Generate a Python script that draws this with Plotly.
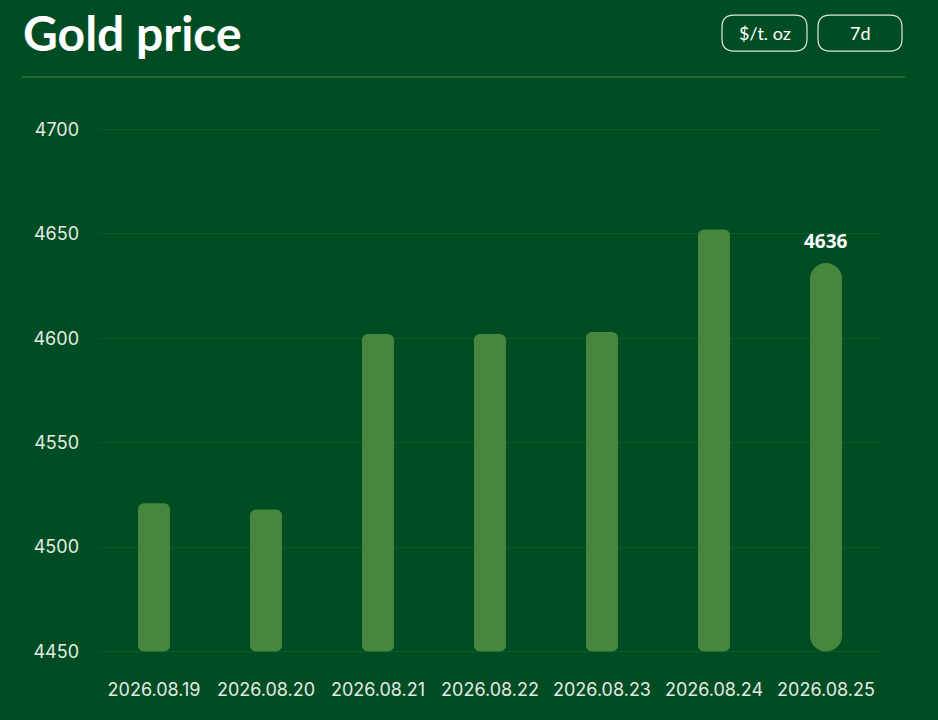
import plotly.graph_objects as go

dates = ["2026.08.19", "2026.08.20", "2026.08.21", "2026.08.22", "2026.08.23", "2026.08.24", "2026.08.25"]
prices = [4521, 4518, 4602, 4602, 4603, 4652, 4636]
y_floor = 4450
y_ticks = [4450, 4500, 4550, 4600, 4650, 4700]
title_text = "Gold price"
unit_label = "$/t. oz"
period_label = "7d"

BG = "#004d24"
BAR = "#46873f"
GRID = "#0b5829"
TICK = "#e3ebe3"

heights = [v - y_floor for v in prices]
n = len(dates)

fig = go.Figure()
groups = [(list(range(n - 1)), 6), ([n - 1], "50%")]
for idx, rad in groups:
    fig.add_trace(go.Bar(x=[dates[i] for i in idx], y=[heights[i] for i in idx],
                         base=[y_floor] * len(idx),
                         marker=dict(color=BAR, cornerradius=rad, line=dict(width=0)),
                         hoverinfo="skip", showlegend=False))

fig.add_annotation(x=dates[-1], y=prices[-1], text="<b>%d</b>" % prices[-1], showarrow=False,
                   yshift=22, font=dict(family="Open Sans", size=19, color="white"))

PL, PW, PB, PH = 98, 784, 662.5, 564.5

def px2paper_x(px):
    return (px - PL) / PW

def px2paper_y(py):
    return (PB - py) / PH

fig.add_annotation(xref="paper", yref="paper", x=px2paper_x(21), y=px2paper_y(32), xanchor="left", yanchor="middle",
                   text="<b>" + title_text + "</b>", showarrow=False,
                   font=dict(family="Lato", size=48, color="white"))

for (x0, x1, lab) in [(722, 807, unit_label), (818, 902, period_label)]:
    X0, X1 = px2paper_x(x0), px2paper_x(x1)
    Y0, Y1 = px2paper_y(51), px2paper_y(15)
    rx = 12 / PW
    ry = 12 / PH
    path = (f"M {X0+rx},{Y0} L {X1-rx},{Y0} Q {X1},{Y0} {X1},{Y0+ry} L {X1},{Y1-ry} Q {X1},{Y1} {X1-rx},{Y1} "
            f"L {X0+rx},{Y1} Q {X0},{Y1} {X0},{Y1-ry} L {X0},{Y0+ry} Q {X0},{Y0} {X0+rx},{Y0} Z")
    fig.add_shape(type="path", xref="paper", yref="paper", path=path,
                  line=dict(color="#dfe8df", width=1.2), fillcolor="rgba(0,0,0,0)")
    fig.add_annotation(xref="paper", yref="paper", x=(X0 + X1) / 2, y=(Y0 + Y1) / 2, text=lab,
                       showarrow=False, xanchor="center", yanchor="middle",
                       font=dict(family="Lato", size=18, color="white"))

fig.add_shape(type="line", xref="paper", yref="paper", x0=px2paper_x(22), x1=px2paper_x(905),
              y0=px2paper_y(77), y1=px2paper_y(77), line=dict(color="#4a8a3a", width=1))

fig.update_layout(
    width=938, height=720,
    paper_bgcolor=BG, plot_bgcolor=BG,
    margin=dict(l=98, r=56, t=98, b=57.5),
    barmode="overlay", bargap=0.714,
    xaxis=dict(type="category", showgrid=False, zeroline=False, showline=False, ticks="",
               tickfont=dict(family="Inter", size=18, color=TICK), ticklabelstandoff=15),
    yaxis=dict(range=[4445, 4715], tickvals=y_ticks, showgrid=True, gridcolor=GRID, gridwidth=1,
               zeroline=False, showline=False, ticks="",
               tickfont=dict(family="Inter", size=18, color=TICK), ticklabelstandoff=18),
)

fig.write_html("out.html", config={"displayModeBar": False},
               post_script="document.body.style.margin='0px';document.body.style.background='%s';" % BG)
